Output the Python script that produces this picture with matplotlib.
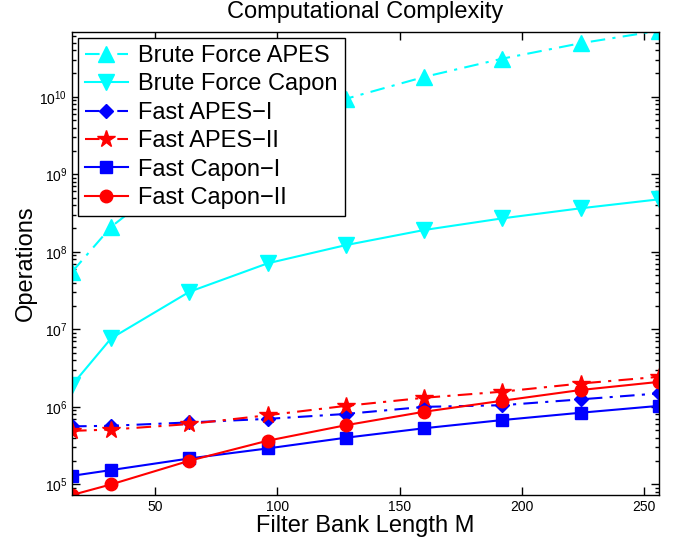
import numpy as np
import matplotlib
matplotlib.use("Agg")
import matplotlib.pyplot as plt
from matplotlib.ticker import LogLocator, NullFormatter

plt.rcParams['font.family'] = ['Liberation Sans', 'DejaVu Sans']
plt.rcParams['mathtext.fontset'] = 'custom'
plt.rcParams['mathtext.rm'] = 'Liberation Sans'

# filter bank lengths
M = [16, 32, 64, 96, 128, 160, 192, 224, 256]

# operations (APES 64/96 hidden behind legend: guessed)
bf_apes = [5.5e7, 2.1e8, 1.3e9, 4.2e9, 9.4e9, 1.8e10, 3.1e10, 4.9e10, 7.1e10]
bf_capon = [1.91e6, 7.66e6, 3.05e7, 7.1e7, 1.22e8, 1.91e8, 2.7e8, 3.64e8, 4.75e8]
fast_apes1 = [5.6e5, 5.7e5, 6.3e5, 7.0e5, 8.1e5, 1.0e6, 1.05e6, 1.25e6, 1.49e6]
fast_apes2 = [4.9e5, 5.1e5, 6.0e5, 7.8e5, 1.03e6, 1.31e6, 1.57e6, 2.0e6, 2.44e6]
fast_capon1 = [1.29e5, 1.53e5, 2.16e5, 2.91e5, 4.0e5, 5.3e5, 6.76e5, 8.4e5, 1.03e6]
fast_capon2 = [7.3e4, 1.0e5, 2.02e5, 3.66e5, 5.8e5, 8.65e5, 1.2e6, 1.65e6, 2.1e6]

xticks = [50, 100, 150, 200, 250]
yticks = [1e5, 1e6, 1e7, 1e8, 1e9, 1e10]

dashdot = (0, (7, 3.5, 1.5, 3.5))

fig = plt.figure(figsize=(6.88, 5.44), dpi=100)
ax = fig.add_axes([0.1047, 0.0901, 0.8531, 0.8509])

ax.semilogy(M, bf_apes, color='cyan', ls=dashdot, lw=1.5, marker='^', ms=12, label='Brute Force APES')
ax.semilogy(M, bf_capon, color='cyan', ls='-', lw=1.5, marker='v', ms=12, label='Brute Force Capon')
ax.semilogy(M, fast_apes1, color='blue', ls=dashdot, lw=1.5, marker='D', ms=7, label='Fast APES\u2212I')
ax.semilogy(M, fast_apes2, color='red', ls=dashdot, lw=1.5, marker='*', ms=13, label='Fast APES\u2212II')
ax.semilogy(M, fast_capon1, color='blue', ls='-', lw=1.5, marker='s', ms=8, label='Fast Capon\u2212I')
ax.semilogy(M, fast_capon2, color='red', ls='-', lw=1.5, marker='o', ms=9, label='Fast Capon\u2212II')

ax.set_xlim(16, 256)
ax.set_ylim(min(fast_capon2), max(bf_apes) * 0.96)
ax.set_xticks(xticks)
ax.set_yticks(yticks)
ax.yaxis.set_minor_locator(LogLocator(base=10, subs=np.arange(2, 10), numticks=20))
ax.yaxis.set_minor_formatter(NullFormatter())
ax.tick_params(which='both', direction='in', top=True, right=True, labelsize=10, width=1)
ax.tick_params(which='major', length=6)
ax.tick_params(which='minor', length=3)
for s in ax.spines.values():
    s.set_linewidth(1)

ax.set_title('Computational Complexity', fontsize=17, pad=10)
ax.set_xlabel('Filter Bank Length M', fontsize=17, labelpad=1)
ax.set_ylabel('Operations', fontsize=17, labelpad=2)

leg = ax.legend(loc='upper left', fontsize=17, frameon=True, fancybox=False,
                edgecolor='black', framealpha=1, handlelength=1.8,
                borderaxespad=0.25, labelspacing=0.27, borderpad=0.3, handletextpad=0.45)
leg.get_frame().set_linewidth(1)

fig.savefig('out.png', dpi=100)
